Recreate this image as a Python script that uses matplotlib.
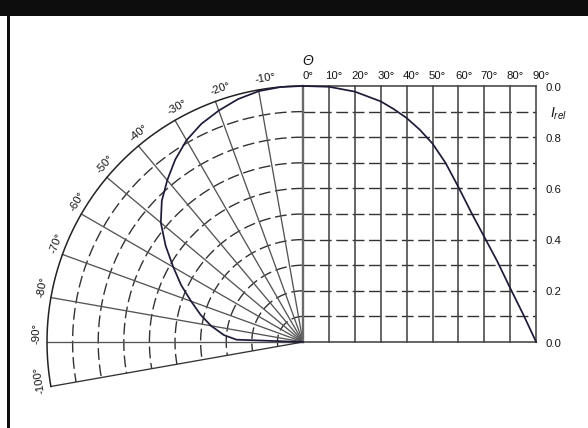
import numpy as np
import matplotlib.pyplot as plt
from matplotlib.patches import Rectangle

plt.rcParams["font.family"] = ["Liberation Sans", "DejaVu Sans"]
plt.rcParams["mathtext.fontset"] = "custom"
plt.rcParams["mathtext.it"] = "Liberation Sans:italic"
plt.rcParams["mathtext.rm"] = "Liberation Sans"

# Relative intensity in polar form (angle in degrees, negative side)
polar_deg = [0, -5, -10, -15, -20, -25, -30, -35, -40, -45, -50, -55, -60,
             -65, -70, -75, -80, -85, -88, -90]
polar_irel = [1.0, 1.0, 0.995, 0.982, 0.962, 0.94, 0.91, 0.87, 0.825, 0.78,
              0.725, 0.655, 0.585, 0.525, 0.465, 0.415, 0.365, 0.31, 0.26, 0.0]

# Relative intensity in cartesian form (positive side)
cart_deg = [0, 10, 20, 30, 35, 40, 45, 50, 55, 60, 65, 70, 75, 80, 85, 90]
cart_irel = [1.0, 0.997, 0.978, 0.94, 0.91, 0.875, 0.83, 0.775, 0.70, 0.605,
             0.505, 0.41, 0.315, 0.21, 0.108, 0.0]

polar_ticks = [-10, -20, -30, -40, -50, -60, -70, -80, -90, -100]
cart_ticks = [0, 10, 20, 30, 40, 50, 60, 70, 80, 90]
ring_levels = [0.1, 0.2, 0.3, 0.4, 0.5, 0.6, 0.7, 0.8, 0.9]
irel_ticks = [1.0, 0.8, 0.6, 0.4, 0.2, 0.0]
irel_labels = ["0.0", "0.8", "0.6", "0.4", "0.2", "0.0"]

W, H = 588, 428
OX, OY, R = 303, 342, 256      # origin and unit radius in pixels
DEG_W = 0.01012                # width of one degree on the cartesian side

GRID = "#444444"
DASH = (8.5, 3.3)
TXT = "#151515"


def polar_xy(deg, r):
    t = np.radians(np.asarray(deg, dtype=float))
    r = np.asarray(r, dtype=float)
    return r * np.sin(t), r * np.cos(t)


fig = plt.figure(figsize=(W / 100, H / 100), dpi=100)
ax = fig.add_axes([0, 0, 1, 1])
ax.set_xlim(-OX / R, (W - OX) / R)
ax.set_ylim(-(H - OY) / R, OY / R)
ax.axis("off")

# polar grid: dashed rings, radial spokes, outer arc
arc = np.linspace(0, -100, 300)
for r in ring_levels:
    x, y = polar_xy(arc, r)
    ax.plot(x, y, color="#333333", lw=1.0, dashes=DASH)
for d in polar_ticks:
    x, y = polar_xy([0, d], [0, 1])
    ax.plot(x, y, color="#555555" if d != -100 else "#333333", lw=0.95)
x, y = polar_xy(arc, 1.0)
ax.plot(x, y, color="#222222", lw=1.1)

# cartesian grid
xmax = 90 * DEG_W
for r in ring_levels:
    ax.plot([0, xmax], [r, r], color="#333333", lw=1.0, dashes=DASH)
for d in cart_ticks[1:]:
    ax.plot([d * DEG_W, d * DEG_W], [0, 1], color=GRID, lw=1.15)
ax.plot([0, xmax], [1, 1], color=GRID, lw=1.15)
ax.plot([0, xmax], [0, 0], color=GRID, lw=1.15)
ax.plot([0, 0], [0, 1], color="#6a6a6a", lw=1.7)

# intensity curves
px, py = polar_xy(polar_deg, polar_irel)
ax.plot(px, py, color="#1c1c38", lw=1.25, solid_joinstyle="round")
ax.plot(np.asarray(cart_deg) * DEG_W, cart_irel, color="#1c1c38", lw=1.25,
        solid_joinstyle="round")

# labels
for d in polar_ticks:
    lx, ly = polar_xy(d + 1.8, 1.04)
    ax.text(lx, ly, f"{d}°", rotation=-d, rotation_mode="anchor",
            ha="center", va="center", fontsize=8.2, color=TXT)
for d in cart_ticks:
    ax.text(d * DEG_W + 0.02, 1.039, f"{d}°", ha="center", va="center",
            fontsize=8.2, color=TXT)
ax.text(0.02, 1.096, "Θ", ha="center", va="center", fontsize=10,
        style="italic", color=TXT)
for v, s in zip(irel_ticks, irel_labels):
    ax.text(0.947, v - 0.006, s, ha="left", va="center", fontsize=8.2,
            color=TXT)
ax.text(0.998, 0.893, r"$I_{rel}$", ha="center", va="center", fontsize=10,
        color=TXT)

# frame: dark top band and left edge
fig.add_artist(Rectangle((0, 1 - 16 / H), 1, 16 / H, transform=fig.transFigure,
                         color="#0d0d0d", lw=0))
fig.add_artist(Rectangle((7 / W, 0), 3 / W, 1, transform=fig.transFigure,
                         color="#0d0d0d", lw=0))

fig.savefig("out.png", dpi=100)
